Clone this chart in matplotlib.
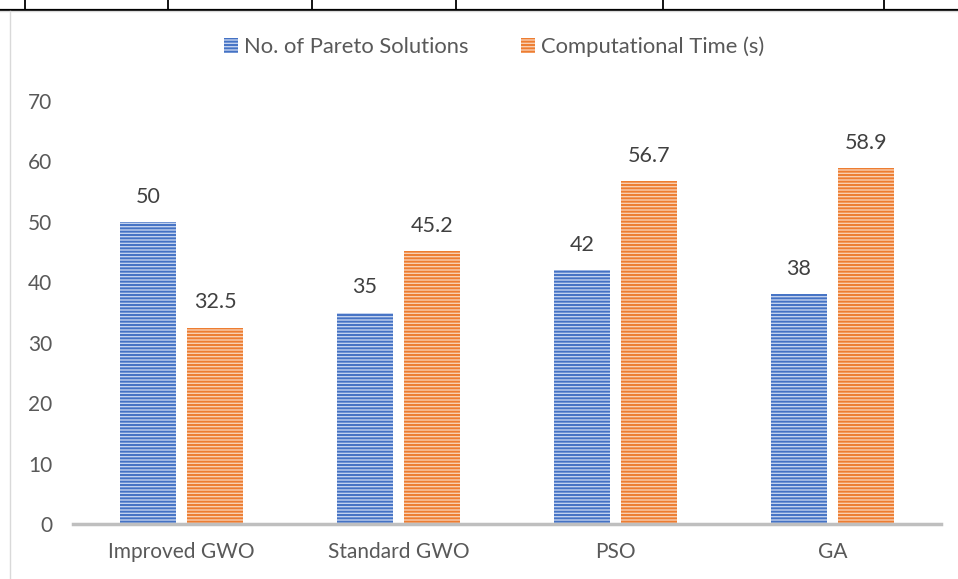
import matplotlib
matplotlib.use("Agg")
import matplotlib.pyplot as plt
import numpy as np
from matplotlib.lines import Line2D
from matplotlib.patches import Patch

categories = ["Improved GWO", "Standard GWO", "PSO", "GA"]
pareto = [50, 35, 42, 38]
comp_time = [32.5, 45.2, 56.7, 58.9]
series_names = ["No. of Pareto Solutions", "Computational Time (s)"]
yticks = [0, 10, 20, 30, 40, 50, 60, 70]

W, H = 958, 579
plt.rcParams['font.family'] = ['Lato', 'DejaVu Sans']
plt.rcParams['hatch.linewidth'] = 1.4
fig = plt.figure(figsize=(W / 100, H / 100), dpi=100)

def px(x0, y0, x1, y1):
    return [x0 / W, 1 - y1 / H, (x1 - x0) / W, (y1 - y0) / H]

# chart frame / page lines
fig.add_artist(Line2D([0, 1], [1 - 9.5 / H] * 2, color='black', lw=1.6, transform=fig.transFigure))
for xv in [25, 168, 312, 456, 663, 884]:
    fig.add_artist(Line2D([xv / W] * 2, [1, 1 - 9 / H], color='black', lw=1.3, transform=fig.transFigure))
fig.add_artist(Line2D([0, 1], [1 - 11 / H] * 2, color='#d9d9d9', lw=1.0, transform=fig.transFigure))
fig.add_artist(Line2D([10 / W] * 2, [1 - 11 / H, 0], color='#d9d9d9', lw=1.0, transform=fig.transFigure))

ax = fig.add_axes(px(73, 101, 941, 524))
x = np.arange(len(categories))
bw = 0.26
off = 0.155
blue, blue_l = '#4472C4', '#c3d2ee'
orange, orange_l = '#ED7D31', '#f9cfb2'
hatch = '-----'
b1 = ax.bar(x - off, pareto, bw, facecolor=blue_l, edgecolor=blue, hatch=hatch, linewidth=0)
b2 = ax.bar(x + off, comp_time, bw, facecolor=orange_l, edgecolor=orange, hatch=hatch, linewidth=0)

for bars, vals in [(b1, pareto), (b2, comp_time)]:
    for r, v in zip(bars, vals):
        ax.annotate(f"{v:g}", (r.get_x() + r.get_width() / 2, v), xytext=(0, 11),
                    textcoords='offset points', ha='center', va='bottom',
                    fontsize=15.5, color='#404040')

ax.set_ylim(0, 70)
ax.set_xlim(-0.5, len(categories) - 0.5)
ax.set_yticks(yticks)
ax.set_xticks(x)
ax.set_xticklabels(categories)
ax.tick_params(axis='both', length=0, labelsize=15, labelcolor='#595959')
ax.tick_params(axis='y', pad=15)
ax.tick_params(axis='x', pad=13)
for s in ['top', 'right', 'left']:
    ax.spines[s].set_visible(False)
ax.spines['bottom'].set_color('#bfbfbf')
ax.spines['bottom'].set_linewidth(2.5)

handles = [Patch(facecolor=blue_l, edgecolor=blue, hatch=hatch, linewidth=0),
           Patch(facecolor=orange_l, edgecolor=orange, hatch=hatch, linewidth=0)]
fig.legend(handles, series_names, loc='center', bbox_to_anchor=(494 / W, 1 - 47 / H),
           ncol=2, frameon=False, fontsize=15.8, labelcolor='#595959',
           handlelength=0.65, handleheight=0.65, handletextpad=0.25, columnspacing=2.4)

fig.savefig('out.png', dpi=100)
